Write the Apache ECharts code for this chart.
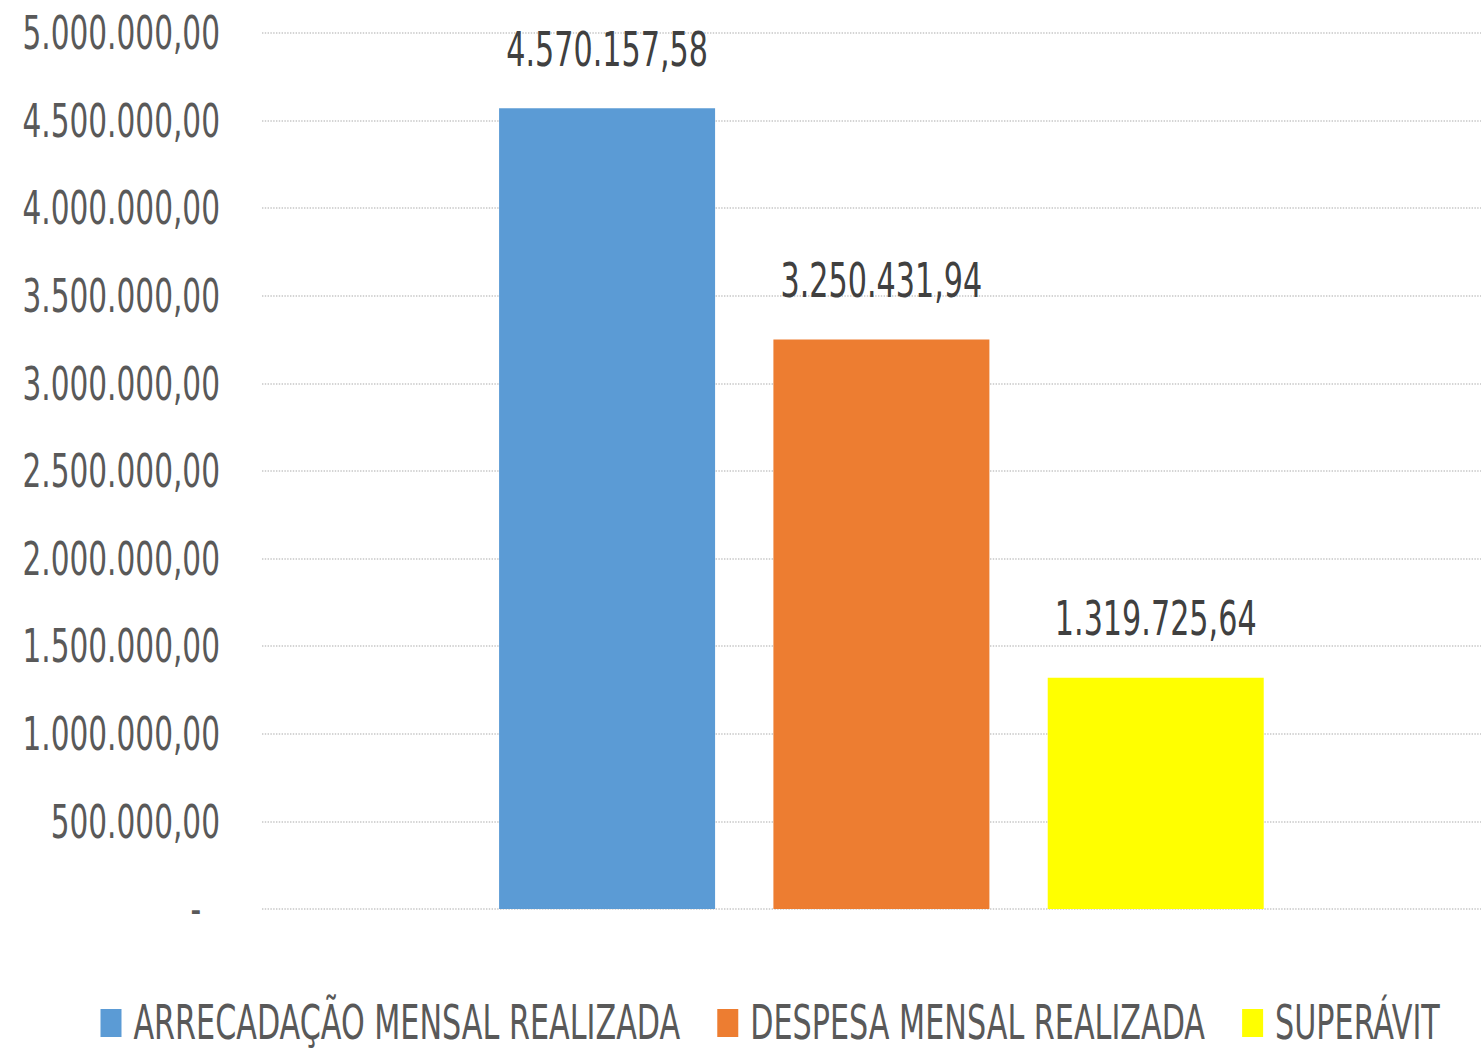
<!DOCTYPE html>
<html>
<head>
<meta charset="utf-8">
<script src="https://cdn.jsdelivr.net/npm/echarts@6/dist/echarts.min.js"></script>
<style>
  html, body { margin: 0; padding: 0; background: #fff; overflow: hidden; }
  /* o gráfico original tem texto estreito e alto: desenha mais largo e comprime na horizontal.
     a área do gráfico passa um pouco da borda direita, como no original */
  #chart { width: 2144px; height: 1050px; transform: scaleX(0.7); transform-origin: 0 0; }
</style>
</head>
<body>
<div id="chart"></div>
<script>
// dados do gráfico
const categorias = [''];
const nomesSeries = ['ARRECADAÇÃO MENSAL REALIZADA', 'DESPESA MENSAL REALIZADA', 'SUPERÁVIT'];
const valores = [4570157.58, 3250431.94, 1319725.64];
const cores = ['#5b9bd5', '#ed7d31', '#ffff00'];

const fonte = '"DejaVu Sans Condensed", "DejaVu Sans", sans-serif';
const k = 1 / 0.7; // fator horizontal (compensa o scaleX do container)

// formato brasileiro: 1.234.567,89
const formatoBR = (v) => {
  if (v === 0) return '-  ';
  const [inteiro, dec] = v.toFixed(2).split('.');
  return inteiro.replace(/\B(?=(\d{3})+(?!\d))/g, '.') + ',' + dec;
};

const chart = echarts.init(document.getElementById('chart'), null, { renderer: 'svg' });

const series = nomesSeries.map((nome, i) => ({
  name: nome,
  type: 'bar',
  data: [valores[i]],
  barWidth: 216 * k,
  barGap: '27%',
  itemStyle: { color: cores[i] },
  label: {
    show: true,
    position: 'top',
    distance: 35,
    color: '#404040',
    fontFamily: fonte,
    fontSize: 48,
    formatter: (p) => formatoBR(p.value)
  }
}));

const option = {
  backgroundColor: '#fff',
  animation: false,
  grid: { left: 262 * k, right: 0, top: 33, bottom: 141 },
  legend: {
    data: nomesSeries,
    left: 97 * k,
    bottom: -2,
    itemWidth: 21 * k,
    itemHeight: 28,
    itemGap: 37 * k,
    icon: 'rect',
    textStyle: { color: '#595959', fontFamily: fonte, fontSize: 48, padding: [0, 0, 0, 12] }
  },
  xAxis: {
    type: 'category',
    data: categorias,
    axisLine: { show: false },
    axisTick: { show: false },
    axisLabel: { show: false }
  },
  yAxis: {
    type: 'value',
    min: 0,
    max: 5000000,
    interval: 500000,
    axisLine: { show: false },
    axisTick: { show: false },
    axisLabel: {
      color: '#595959',
      fontFamily: fonte,
      fontSize: 47,
      margin: 42 * k,
      formatter: (v) => formatoBR(v)
    },
    splitLine: { lineStyle: { color: '#d4d4d4', type: 'dotted', width: 2 } }
  },
  series: series
};

chart.setOption(option);
</script>
</body>
</html>
